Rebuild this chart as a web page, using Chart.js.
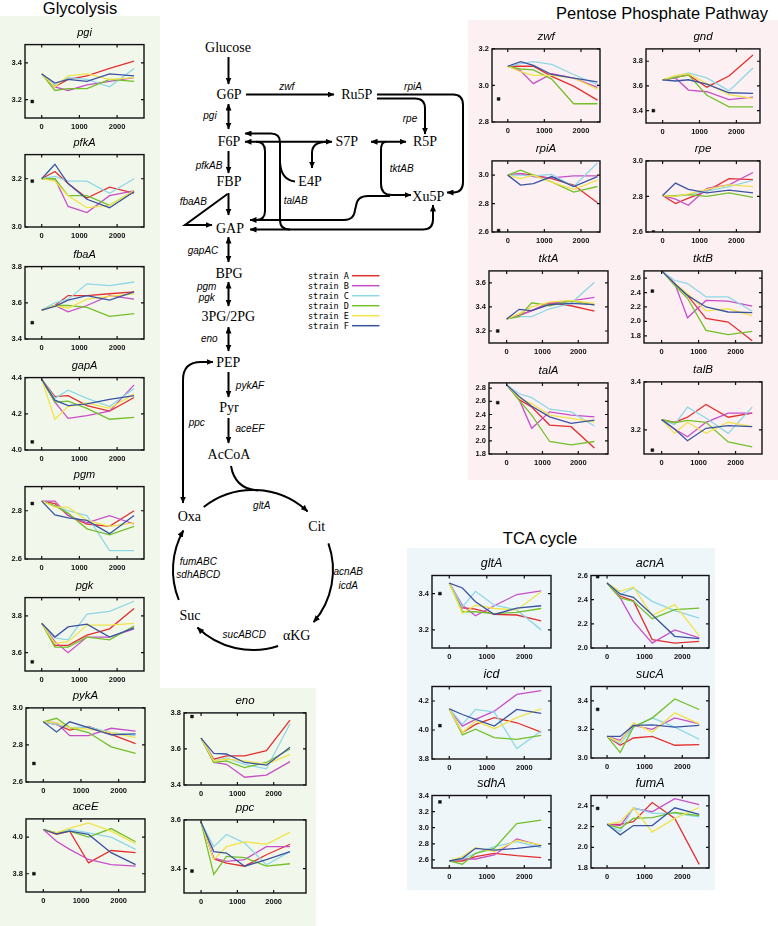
<!DOCTYPE html>
<html><head><meta charset="utf-8">
<script src="https://cdn.jsdelivr.net/npm/chart.js@4/dist/chart.umd.min.js"></script>
<style>
html,body{margin:0;padding:0;background:#fff;}
#wrap{position:relative;width:778px;height:926px;overflow:hidden;background:#fff;font-family:"Liberation Sans",Arial,sans-serif;}
.panel{position:absolute;}
#wrap canvas{position:absolute;}
.head{position:absolute;font-size:16.5px;color:#000;white-space:nowrap;transform:translate(-50%,-50%);}
#diagram{position:absolute;left:0;top:0;}
.met{font-family:"Liberation Serif","Times New Roman",serif;font-size:14px;fill:#000;}
.enz{font-family:"Liberation Sans",Arial,sans-serif;font-style:italic;font-size:10px;fill:#000;}
.leg{font-family:"DejaVu Sans Mono","Liberation Mono",monospace;font-size:8.5px;fill:#000;}
</style></head>
<body><div id="wrap">
<div class="panel" style="left:0;top:16px;width:160px;height:674px;background:#f2f7ec"></div>
<div class="panel" style="left:0;top:688px;width:316px;height:238px;background:#f2f7ec"></div>
<div class="panel" style="left:468px;top:20px;width:310px;height:460px;background:#fcf0f3"></div>
<div class="panel" style="left:407px;top:548px;width:308px;height:342px;background:#eef6fa"></div>
<div class="head" style="left:80px;top:8px">Glycolysis</div>
<div class="head" style="left:662px;top:13px">Pentose Phosphate Pathway</div>
<div class="head" style="left:540px;top:538px">TCA cycle</div>

<svg id="diagram" width="778" height="926" viewBox="0 0 778 926">
<defs>
<marker id="ah" viewBox="0 0 7 6" refX="6.5" refY="3" markerWidth="7" markerHeight="6" markerUnits="userSpaceOnUse" orient="auto-start-reverse"><path d="M0,0 L7,3 L0,6 z" fill="#000"/></marker>
</defs>
<g fill="none" stroke="#000" stroke-width="2">
<path d="M228.5 57 L228.5 84" marker-end="url(#ah)"/>
<path d="M246 94.5 L334 94.5" marker-end="url(#ah)"/>
<path d="M377 94.5 L453 94.5 Q463 94.5 463 105 L463 182 Q463 192.5 453 192.5 L447 192.5" marker-end="url(#ah)"/>
<path d="M377 98.5 L415 98.5 Q425 98.5 425 108.5 L425 134" marker-end="url(#ah)"/>
<path d="M228.5 104 L228.5 129" marker-start="url(#ah)" marker-end="url(#ah)"/>
<path d="M371 141.7 L406 141.7" marker-start="url(#ah)" marker-end="url(#ah)"/>
<path d="M386 141.7 Q381 141.7 381 150 L381 184 Q381 195 392 195 L411 195" marker-end="url(#ah)"/>
<path d="M250 220 L344 220 Q354 220 355 210 L356 206 Q357 196 368 196 L390 196" marker-start="url(#ah)"/>
<path d="M250 229.5 L423 229.5 Q433 229.5 433 219.5 L433 205" marker-start="url(#ah)" marker-end="url(#ah)"/>
<path d="M245 133.5 L271 133.5 Q280 133.5 280 142.5 L280 220 Q280 229.5 290 229.5" marker-start="url(#ah)"/>
<path d="M280 162 Q281 180 295 181.5"/>
<path d="M245 141.7 L332 141.7" marker-start="url(#ah)" marker-end="url(#ah)"/>
<path d="M327 141.7 Q312 141.7 312 153 L312 168" marker-end="url(#ah)"/>
<path d="M256 141.7 Q265 141.7 265 151 L265 211 Q265 220 256 220"/>
<path d="M228.5 151 L228.5 173" marker-end="url(#ah)"/>
<path d="M228.5 193 L228.5 215" marker-end="url(#ah)"/>
<path d="M227.5 194 L185 225 L212 225" marker-end="url(#ah)"/>
<path d="M228.5 237 L228.5 262" marker-start="url(#ah)" marker-end="url(#ah)"/>
<path d="M228.5 282 L228.5 306" marker-start="url(#ah)" marker-end="url(#ah)"/>
<path d="M228.5 327 L228.5 351" marker-start="url(#ah)" marker-end="url(#ah)"/>
<path d="M228.5 372 L228.5 397" marker-end="url(#ah)"/>
<path d="M228.5 418 L228.5 443" marker-end="url(#ah)"/>
<path d="M183 503 L183 380 Q183 362 201 362 L213 362" marker-start="url(#ah)" marker-end="url(#ah)"/>
<path d="M231 466 Q235 489 258 490.5"/>
<path d="M203.7 507 A80 80 0 0 1 307.6 511.5" marker-end="url(#ah)"/>
<path d="M328.4 543.3 A80 80 0 0 1 313.6 622.2" marker-end="url(#ah)"/>
<path d="M278.1 646 A80 80 0 0 1 197.4 627.5" marker-end="url(#ah)"/>
<path d="M178.8 600 A80 80 0 0 1 183.4 530.5" marker-end="url(#ah)"/>
</g>
<g text-anchor="middle" dominant-baseline="central">
<text class="met" x="228" y="47">Glucose</text>
<text class="met" x="229" y="94.5">G6P</text>
<text class="met" x="356.7" y="94.5">Ru5P</text>
<text class="met" x="229" y="141.7">F6P</text>
<text class="met" x="346.7" y="141.7">S7P</text>
<text class="met" x="425" y="141.7">R5P</text>
<text class="met" x="229" y="181.7">FBP</text>
<text class="met" x="310" y="181.7">E4P</text>
<text class="met" x="428.3" y="196.7">Xu5P</text>
<text class="met" x="230" y="228.3">GAP</text>
<text class="met" x="229" y="273.3">BPG</text>
<text class="met" x="228.3" y="316.7">3PG/2PG</text>
<text class="met" x="228.3" y="362.3">PEP</text>
<text class="met" x="229" y="407.7">Pyr</text>
<text class="met" x="229" y="454.3">AcCoA</text>
<text class="met" x="189.3" y="516.7">Oxa</text>
<text class="met" x="316.7" y="526.7">Cit</text>
<text class="met" x="296.7" y="635.7">αKG</text>
<text class="met" x="190" y="615.7">Suc</text>
<text class="enz" x="286.7" y="86">zwf</text>
<text class="enz" x="413" y="86.7">rpiA</text>
<text class="enz" x="410" y="118">rpe</text>
<text class="enz" x="210" y="115">pgi</text>
<text class="enz" x="401.7" y="168.3">tktAB</text>
<text class="enz" x="209" y="165.7">pfkAB</text>
<text class="enz" x="295.7" y="200">talAB</text>
<text class="enz" x="193.3" y="201">fbaAB</text>
<text class="enz" x="203" y="250">gapAC</text>
<text class="enz" x="206.7" y="286.7">pgm</text>
<text class="enz" x="206.7" y="297.7">pgk</text>
<text class="enz" x="209.3" y="338.3">eno</text>
<text class="enz" x="250" y="385">pykAF</text>
<text class="enz" x="250" y="428.3">aceEF</text>
<text class="enz" x="196.7" y="422.3">ppc</text>
<text class="enz" x="261.7" y="505">gltA</text>
<text class="enz" x="348.3" y="571.7">acnAB</text>
<text class="enz" x="348.3" y="585">icdA</text>
<text class="enz" x="244.3" y="634.3">sucABCD</text>
<text class="enz" x="198.3" y="561">fumABC</text>
<text class="enz" x="198.3" y="574.3">sdhABCD</text>
</g>
<g id="legend"></g>
</svg>
</div>
<script>
// ---------- data ----------
const times = [0, 350, 700, 1200, 1800, 2450];
const xTicks = [0, 1000, 2000];
const refTime = -250;
const strainNames = ['strain A', 'strain B', 'strain C', 'strain D', 'strain E', 'strain F'];
const strainColors = ['#e3302f', '#c84ec8', '#8ed7e6', '#73c02a', '#f1e34a', '#3a54a2'];

// each gene: series for strains A..F
const pgi = [[3.34,3.27,3.31,3.33,3.37,3.41],[3.34,3.27,3.25,3.28,3.30,3.32],[3.34,3.28,3.32,3.31,3.27,3.37],[3.34,3.25,3.26,3.26,3.31,3.30],[3.34,3.27,3.33,3.34,3.31,3.32],[3.34,3.29,3.31,3.30,3.34,3.33]];
const pgiRef = 3.19, pgiTicks = [3.2, 3.4];
const pfkA = [[3.20,3.23,3.18,3.12,3.165,3.14],[3.20,3.20,3.085,3.06,3.13,3.15],[3.20,3.21,3.19,3.19,3.14,3.20],[3.20,3.20,3.13,3.13,3.09,3.15],[3.20,3.19,3.13,3.08,3.09,3.15],[3.20,3.26,3.18,3.115,3.08,3.146]];
const pfkARef = 3.19, pfkATicks = [3.0, 3.2];
const fbaA = [[3.56,3.585,3.64,3.64,3.65,3.66],[3.56,3.585,3.55,3.585,3.64,3.62],[3.56,3.60,3.62,3.705,3.695,3.715],[3.56,3.585,3.585,3.575,3.525,3.54],[3.56,3.585,3.57,3.62,3.635,3.65],[3.56,3.58,3.615,3.64,3.615,3.66]];
const fbaARef = 3.49, fbaATicks = [3.4, 3.6, 3.8];
const gapA = [[4.39,4.295,4.30,4.245,4.215,4.29],[4.39,4.265,4.175,4.19,4.215,4.36],[4.39,4.285,4.33,4.285,4.24,4.34],[4.39,4.265,4.27,4.23,4.17,4.18],[4.39,4.17,4.24,4.26,4.23,4.31],[4.39,4.275,4.245,4.255,4.28,4.30]];
const gapARef = 4.045, gapATicks = [4.0, 4.2, 4.4];
const pgm = [[2.84,2.83,2.78,2.745,2.735,2.80],[2.84,2.84,2.78,2.75,2.78,2.745],[2.84,2.82,2.80,2.78,2.635,2.635],[2.84,2.82,2.79,2.725,2.70,2.735],[2.84,2.815,2.815,2.76,2.735,2.75],[2.84,2.783,2.77,2.76,2.705,2.78]];
const pgmRef = 2.83, pgmTicks = [2.6, 2.8];
const pgk = [[3.76,3.64,3.64,3.695,3.73,3.84],[3.76,3.66,3.60,3.685,3.685,3.73],[3.76,3.68,3.67,3.81,3.825,3.88],[3.76,3.63,3.63,3.685,3.67,3.745],[3.76,3.65,3.66,3.75,3.75,3.76],[3.76,3.685,3.74,3.755,3.685,3.735]];
const pgkRef = 3.55, pgkTicks = [3.6, 3.8];
const pykA = [[2.925,2.91,2.88,2.90,2.857,2.807],[2.925,2.92,2.85,2.85,2.89,2.875],[2.925,2.91,2.894,2.897,2.867,2.85],[2.925,2.944,2.894,2.867,2.79,2.755],[2.925,2.92,2.894,2.885,2.867,2.84],[2.925,2.87,2.925,2.894,2.855,2.86]];
const pykARef = 2.70, pykATicks = [2.6, 2.8, 3.0];
const aceE = [[4.042,4.015,4.033,3.86,3.927,3.915],[4.042,3.978,3.933,3.878,3.85,3.842],[4.042,4.024,4.042,4.024,4.0,3.933],[4.042,4.024,4.033,4.0,4.047,3.975],[4.042,4.024,4.05,4.078,4.033,3.964],[4.042,4.018,4.033,4.015,3.915,3.85]];
const aceERef = 3.80, aceETicks = [3.8, 4.0];
const eno = [[3.66,3.543,3.562,3.562,3.59,3.76],[3.66,3.525,3.515,3.443,3.455,3.53],[3.66,3.534,3.55,3.515,3.49,3.74],[3.66,3.525,3.534,3.496,3.525,3.60],[3.66,3.534,3.543,3.534,3.515,3.57],[3.66,3.575,3.572,3.525,3.51,3.61]];
const enoRef = 3.78, enoTicks = [3.4, 3.6, 3.8];
const ppc = [[3.59,3.44,3.423,3.41,3.457,3.50],[3.59,3.443,3.43,3.437,3.49,3.49],[3.59,3.49,3.54,3.505,3.416,3.47],[3.59,3.376,3.45,3.445,3.41,3.42],[3.59,3.437,3.49,3.51,3.50,3.55],[3.59,3.47,3.464,3.41,3.437,3.47]];
const ppcRef = 3.39, ppcTicks = [3.4, 3.6];
const zwf = [[3.105,3.105,3.105,3.05,2.996,2.92],[3.105,3.08,3.01,3.065,3.04,2.99],[3.105,3.12,3.13,3.115,3.06,3.005],[3.105,3.09,3.085,3.035,2.90,2.90],[3.105,3.075,3.055,3.055,3.04,2.98],[3.105,3.13,3.11,3.06,3.04,3.02]];
const zwfRef = 2.926, zwfTicks = [2.8, 3.0, 3.2];
const gnd = [[3.65,3.67,3.69,3.59,3.68,3.85],[3.65,3.665,3.567,3.553,3.49,3.51],[3.65,3.68,3.705,3.665,3.56,3.745],[3.65,3.67,3.69,3.525,3.43,3.43],[3.65,3.685,3.70,3.62,3.53,3.50],[3.65,3.64,3.65,3.615,3.545,3.54]];
const gndRef = 3.40, gndTicks = [3.4, 3.6, 3.8];
const rpiA = [[3.0,3.01,3.0,2.975,2.93,2.805],[3.0,3.01,2.99,2.98,2.995,2.995],[3.0,3.0,2.995,3.005,2.92,3.085],[3.0,3.035,3.0,2.953,2.88,2.92],[3.0,2.975,3.0,2.95,2.90,2.965],[3.0,2.93,2.94,2.99,2.92,2.99]];
const rpiARef = 2.61, rpiATicks = [2.6, 2.8, 3.0];
const rpe = [[2.805,2.76,2.79,2.83,2.90,2.895],[2.805,2.785,2.75,2.845,2.865,2.935],[2.805,2.80,2.81,2.83,2.855,2.89],[2.805,2.805,2.81,2.80,2.82,2.795],[2.805,2.80,2.815,2.84,2.865,2.855],[2.805,2.875,2.84,2.82,2.835,2.82]];
const rpeRef = 2.60, rpeTicks = [2.6, 2.8, 3.0];
const tktA = [[3.30,3.33,3.37,3.435,3.41,3.365],[3.30,3.33,3.37,3.43,3.45,3.48],[3.30,3.32,3.32,3.385,3.43,3.605],[3.30,3.32,3.435,3.41,3.45,3.415],[3.30,3.345,3.40,3.44,3.455,3.43],[3.30,3.38,3.37,3.42,3.43,3.42]];
const tktARef = 3.20, tktATicks = [3.2, 3.4, 3.6];
const tktB = [[2.70,2.525,2.36,2.04,1.99,1.73],[2.70,2.535,2.05,2.29,2.28,2.21],[2.70,2.57,2.525,2.34,2.34,2.14],[2.70,2.50,2.32,1.875,1.815,1.86],[2.70,2.525,2.385,2.145,2.175,2.08],[2.70,2.525,2.36,2.20,2.13,2.12]];
const tktBRef = 2.42, tktBTicks = [1.8, 2.0, 2.2, 2.4, 2.6];
const talA = [[2.85,2.625,2.515,2.24,2.215,1.89],[2.85,2.625,2.19,2.44,2.39,2.365],[2.85,2.715,2.655,2.48,2.44,2.225],[2.85,2.615,2.39,1.99,1.94,1.99],[2.85,2.65,2.565,2.39,2.34,2.29],[2.85,2.675,2.525,2.365,2.265,2.315]];
const talARef = 2.58, talATicks = [1.8, 2.0, 2.2, 2.4, 2.6, 2.8];
const talB = [[3.243,3.232,3.253,3.306,3.253,3.27],[3.243,3.204,3.172,3.232,3.27,3.27],[3.243,3.222,3.295,3.25,3.186,3.295],[3.243,3.23,3.24,3.232,3.15,3.13],[3.243,3.186,3.232,3.186,3.232,3.214],[3.243,3.204,3.155,3.207,3.218,3.214]];
const talBRef = 3.116, talBTicks = [3.2, 3.4];
const gltA = [[3.458,3.322,3.315,3.285,3.282,3.25],[3.458,3.336,3.278,3.333,3.395,3.415],[3.458,3.327,3.413,3.336,3.31,3.20],[3.458,3.30,3.30,3.29,3.296,3.318],[3.458,3.29,3.336,3.318,3.31,3.41],[3.458,3.431,3.355,3.285,3.32,3.333]];
const gltARef = 3.40, gltATicks = [3.2, 3.4];
const acnA = [[2.538,2.43,2.39,2.07,2.04,2.055],[2.538,2.414,2.22,2.04,2.15,2.083],[2.538,2.44,2.497,2.386,2.31,2.248],[2.538,2.414,2.386,2.243,2.317,2.33],[2.538,2.469,2.505,2.27,2.359,2.10],[2.538,2.447,2.42,2.276,2.097,2.077]];
const acnARef = 2.59, acnATicks = [2.0, 2.2, 2.4, 2.6];
const icd = [[4.146,3.982,4.039,4.085,4.05,3.986],[4.146,4.027,4.073,4.13,4.245,4.272],[4.146,4.039,4.142,4.123,3.872,3.993],[4.146,3.966,4.005,3.947,3.936,3.963],[4.146,3.982,4.062,4.009,4.085,4.146],[4.146,4.107,4.073,4.027,4.142,4.114]];
const icdRef = 4.03, icdTicks = [3.8, 4.0, 4.2];
const sucA = [[3.151,3.089,3.14,3.151,3.089,3.094],[3.151,3.124,3.228,3.20,3.281,3.239],[3.151,3.10,3.216,3.281,3.216,3.131],[3.151,3.038,3.216,3.279,3.413,3.339],[3.151,3.112,3.246,3.181,3.316,3.239],[3.151,3.151,3.228,3.232,3.216,3.228]];
const sucARef = 3.34, sucATicks = [3.0, 3.2, 3.4];
const sdhA = [[2.587,2.587,2.641,2.682,2.653,2.629],[2.587,2.612,2.612,2.662,2.859,2.777],[2.587,2.612,2.682,2.764,2.826,2.752],[2.587,2.547,2.682,2.744,3.052,3.093],[2.587,2.641,2.752,2.703,2.846,2.785],[2.587,2.62,2.744,2.723,2.744,2.777]];
const sdhARef = 3.32, sdhATicks = [2.6, 2.8, 3.0, 3.2, 3.4];
const fumA = [[2.222,2.222,2.248,2.432,2.279,1.835],[2.222,2.21,2.375,2.343,2.47,2.413],[2.222,2.152,2.384,2.327,2.327,2.295],[2.222,2.184,2.279,2.286,2.336,2.305],[2.222,2.248,2.381,2.146,2.279,2.384],[2.222,2.12,2.21,2.21,2.381,2.317]];
const fumARef = 2.375, fumATicks = [1.8, 2.0, 2.2, 2.4];

// ---------- layout (positions, axis bounds, title size) ----------
const panels = [
  {name:'pgi',  s:pgi,  ref:pgiRef,  t:pgiTicks,  box:[25,45,144,118],  x:[-443,2713], y:[3.1,3.5], ts:11},
  {name:'pfkA', s:pfkA, ref:pfkARef, t:pfkATicks, box:[25,155,144,227], x:[-443,2713], y:[3.0,3.3], ts:11},
  {name:'fbaA', s:fbaA, ref:fbaARef, t:fbaATicks, box:[25,267,144,339], x:[-443,2713], y:[3.4,3.8], ts:11},
  {name:'gapA', s:gapA, ref:gapARef, t:gapATicks, box:[25,378,144,450], x:[-443,2713], y:[4.0,4.4], ts:11},
  {name:'pgm',  s:pgm,  ref:pgmRef,  t:pgmTicks,  box:[25,487,144,559], x:[-443,2713], y:[2.6,2.9], ts:11},
  {name:'pgk',  s:pgk,  ref:pgkRef,  t:pgkTicks,  box:[25,598,144,671], x:[-443,2713], y:[3.5,3.9], ts:11},
  {name:'pykA', s:pykA, ref:pykARef, t:pykATicks, box:[26,708,145,782], x:[-460,2700], y:[2.6,3.0], ts:11.5},
  {name:'aceE', s:aceE, ref:aceERef, t:aceETicks, box:[26,819,145,892], x:[-460,2700], y:[3.7,4.1], ts:11.5},
  {name:'eno',  s:eno,  ref:enoRef,  t:enoTicks,  box:[184,713,306,785], x:[-470,2890], y:[3.4,3.8], ts:11.5},
  {name:'ppc',  s:ppc,  ref:ppcRef,  t:ppcTicks,  box:[184,820,306,893], x:[-470,2890], y:[3.3,3.6], ts:11.5},
  {name:'zwf',  s:zwf,  ref:zwfRef,  t:zwfTicks,  box:[492,49,600,122],  x:[-430,2520], y:[2.8,3.2], ts:11.5},
  {name:'gnd',  s:gnd,  ref:gndRef,  t:gndTicks,  box:[646,49,760,122.7], x:[-450,2640], y:[3.3,3.9], ts:11.5},
  {name:'rpiA', s:rpiA, ref:rpiARef, t:rpiATicks, box:[492,161,600,232], x:[-430,2520], y:[2.6,3.1], ts:11.5},
  {name:'rpe',  s:rpe,  ref:rpeRef,  t:rpeTicks,  box:[646,161,760,232], x:[-450,2640], y:[2.6,3.0], ts:11.5},
  {name:'tktA', s:tktA, ref:tktARef, t:tktATicks, box:[489,271,608,343], x:[-493,2830], y:[3.1,3.7], ts:11.5},
  {name:'tktB', s:tktB, ref:tktBRef, t:tktBTicks, box:[644,271,762,343], x:[-476,2715], y:[1.7,2.7], ts:11.5},
  {name:'talA', s:talA, ref:talARef, t:talATicks, box:[489,382.7,608,454], x:[-493,2830], y:[1.8,2.88], ts:11.5},
  {name:'talB', s:talB, ref:talBRef, t:talBTicks, box:[644,381.7,762,454], x:[-476,2715], y:[3.1,3.4], ts:11.5},
  {name:'gltA', s:gltA, ref:gltARef, t:gltATicks, box:[431.7,575.7,550.7,648.3], x:[-461,2712], y:[3.1,3.5], ts:12.5},
  {name:'acnA', s:acnA, ref:acnARef, t:acnATicks, box:[590.7,575.7,708.3,648], x:[-427,2710], y:[2.0,2.6], ts:12.5},
  {name:'icd',  s:icd,  ref:icdRef,  t:icdTicks,  box:[431.7,686,550.7,758.3], x:[-461,2712], y:[3.8,4.3], ts:12.5},
  {name:'sucA', s:sucA, ref:sucARef, t:sucATicks, box:[590.7,686,708.3,757.7], x:[-427,2710], y:[3.0,3.5], ts:12.5},
  {name:'sdhA', s:sdhA, ref:sdhARef, t:sdhATicks, box:[431.7,795,550.7,867.7], x:[-461,2712], y:[2.5,3.4], ts:12.5},
  {name:'fumA', s:fumA, ref:fumARef, t:fumATicks, box:[590.7,795,708.3,867.7], x:[-427,2710], y:[1.8,2.5], ts:12.5}
];

const AXW = 28, AXH = 16, RPAD = 6;
const tickFont = {family:'"Liberation Sans Narrow","Liberation Sans",Arial,sans-serif', size:7.5, weight:'bold'};

const framePlugin = {
  id: 'frame',
  afterDatasetsDraw(chart) {
    const {ctx, chartArea: a, scales: {x, y}} = chart;
    ctx.save();
    ctx.strokeStyle = '#111';
    ctx.lineWidth = 1.4;
    ctx.strokeRect(a.left, a.top, a.right - a.left, a.bottom - a.top);
    ctx.lineWidth = 1.2;
    ctx.beginPath();
    y.ticks.forEach(t => {
      const p = y.getPixelForValue(t.value);
      ctx.moveTo(a.left, p); ctx.lineTo(a.left + 3, p);
      ctx.moveTo(a.right, p); ctx.lineTo(a.right - 3, p);
    });
    x.ticks.forEach(t => {
      const p = x.getPixelForValue(t.value);
      ctx.moveTo(p, a.bottom); ctx.lineTo(p, a.bottom - 3);
      ctx.moveTo(p, a.top); ctx.lineTo(p, a.top + 3);
    });
    ctx.stroke();
    ctx.restore();
  }
};

const wrap = document.getElementById('wrap');
panels.forEach(p => {
  const [l, t, r, b] = p.box;
  const tpad = 12 - 0.6 * p.ts;
  const titleH = p.ts * 1.2 + tpad;
  const cv = document.createElement('canvas');
  const W = Math.round((r - l) + AXW + RPAD);
  const H = Math.round((b - t) + titleH + AXH);
  cv.width = W; cv.height = H;
  cv.style.width = W + 'px'; cv.style.height = H + 'px';
  cv.style.left = (l - AXW) + 'px';
  cv.style.top = (t - titleH) + 'px';
  wrap.appendChild(cv);

  const datasets = p.s.map((vals, i) => ({
    label: strainNames[i],
    data: vals.map((v, k) => ({x: times[k], y: v})),
    borderColor: strainColors[i],
    backgroundColor: strainColors[i],
    borderWidth: 1.3,
    pointRadius: 0,
    tension: 0,
    order: 5 - i
  }));
  datasets.push({
    label: 'reference',
    data: [{x: refTime, y: p.ref}],
    showLine: false,
    pointStyle: 'rect',
    pointRadius: 2,
    backgroundColor: '#111',
    borderColor: '#111',
    borderWidth: 0.5,
    order: -1
  });

  new Chart(cv, {
    type: 'line',
    data: {datasets},
    options: {
      responsive: false,
      animation: false,
      devicePixelRatio: 1,
      layout: {padding: {left: 0, right: RPAD, top: 0, bottom: 0}},
      plugins: {
        legend: {display: false},
        tooltip: {enabled: false},
        title: {
          display: true, text: p.name, fullSize: false, color: '#000',
          font: {family: '"Liberation Sans",Arial,sans-serif', size: p.ts, style: 'italic', weight: 'normal'},
          padding: {top: 0, bottom: tpad}
        }
      },
      scales: {
        x: {
          type: 'linear', min: p.x[0], max: p.x[1],
          grid: {display: false, drawTicks: false},
          border: {display: false},
          afterBuildTicks: s => { s.ticks = xTicks.map(v => ({value: v})); },
          afterFit: s => { s.height = AXH; },
          ticks: {font: tickFont, color: '#111', padding: 4, maxRotation: 0, autoSkip: false,
                  callback: v => String(v)}
        },
        y: {
          type: 'linear', min: p.y[0], max: p.y[1],
          grid: {display: false, drawTicks: false},
          border: {display: false},
          afterBuildTicks: s => { s.ticks = p.t.map(v => ({value: v})); },
          afterFit: s => { s.width = AXW; },
          ticks: {font: tickFont, color: '#111', padding: 3, autoSkip: false,
                  callback: v => Number(v).toFixed(1)}
        }
      }
    },
    plugins: [framePlugin]
  });
});

// legend (built from the strain arrays)
const NS = 'http://www.w3.org/2000/svg';
const legG = document.getElementById('legend');
strainNames.forEach((n, i) => {
  const y = 275.7 + i * 10;
  const tx = document.createElementNS(NS, 'text');
  tx.setAttribute('class', 'leg');
  tx.setAttribute('x', '308');
  tx.setAttribute('y', String(y));
  tx.setAttribute('dominant-baseline', 'central');
  tx.textContent = n;
  legG.appendChild(tx);
  const ln = document.createElementNS(NS, 'line');
  ln.setAttribute('x1', '352'); ln.setAttribute('x2', '379.5');
  ln.setAttribute('y1', String(y)); ln.setAttribute('y2', String(y));
  ln.setAttribute('stroke', strainColors[i]);
  ln.setAttribute('stroke-width', '1.5');
  legG.appendChild(ln);
});
</script>
</body></html>
